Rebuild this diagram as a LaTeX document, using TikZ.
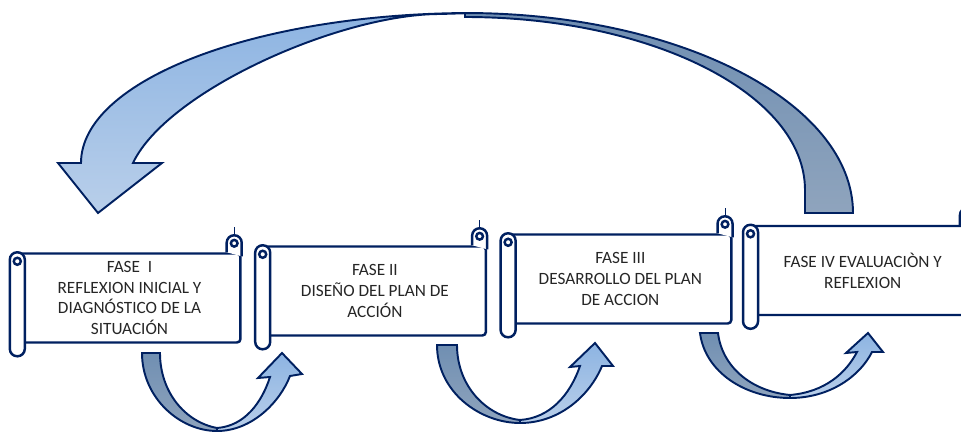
\documentclass[tikz,border=0pt]{standalone}
\usepackage{fontspec}
\setmainfont{Carlito}
\usetikzlibrary{positioning,calc}
\definecolor{azulosc}{RGB}{0,32,96}
\definecolor{celeste}{RGB}{141,180,226}
\definecolor{celestebaj}{RGB}{185,207,234}
\definecolor{grisazul}{RGB}{112,143,178}
\definecolor{grisazulbaj}{RGB}{143,164,189}
\definecolor{texto}{RGB}{38,38,38}

% rollos del pergamino, sobre el cuerpo del nodo
\newcommand{\rollos}[1]{%
  \begin{scope}[shift={(#1.north west)}]
    \draw[rollo, rounded corners=4.2pt] (-7.5,0) rectangle (7.5,104);
    \draw[rollo] (0,9) circle (2pt);
  \end{scope}
  \begin{scope}[shift={(#1.north east)}]
    \draw[rollo, rounded corners=4.2pt] (-15,0) -- (-15,-17) -- (0,-17) -- (0,4);
    \draw[rollo] (-7.5,-9) circle (1.9pt);
    \draw[azulosc, line width=0.5pt] (-7.5,-17) -- (-7.5,-25);
  \end{scope}}

\begin{document}
\begin{tikzpicture}[
  x=0.02cm, y=-0.02cm,
  fase/.style={draw=azulosc, line width=1.4pt, fill=white, rounded corners=2pt, minimum width=4.44cm, minimum height=1.78cm, inner sep=0pt, align=center, text=texto, font=\fontsize{9.8pt}{11.9pt}\selectfont},
  rollo/.style={draw=azulosc, line width=1.4pt, fill=white},
  clara/.style={draw=azulosc, line width=1.1pt, top color=celeste, bottom color=celestebaj},
  oscura/.style={draw=azulosc, line width=1.1pt, top color=grisazul, bottom color=grisazulbaj}
]
\useasboundingbox (0,0) rectangle (961,432);
\clip (0,0) rectangle (961,432);

% fases
\node[fase] (fase1) at (129.5,298) {FASE~~I\\REFLEXION INICIAL Y\\DIAGNÓSTICO DE LA\\SITUACIÓN};
\node[fase, right=0.42cm of fase1, yshift=0.14cm] (fase2) {FASE II\\DISEÑO DEL PLAN DE\\ACCIÓN};
\node[fase, right=0.42cm of fase2, yshift=0.24cm] (fase3) {FASE III\\DESARROLLO DEL PLAN\\DE ACCION};
\node[fase, right=0.36cm of fase3, yshift=0.17cm] (fase4) {FASE IV EVALUACIÒN Y\\REFLEXION};
\rollos{fase1}
\rollos{fase2}
\rollos{fase3}
\rollos{fase4}

% flecha grande de regreso
\draw[oscura] (465,13) arc[start angle=270, end angle=360, x radius=388, y radius=200] -- (805,213)
  -- (805,190) arc[start angle=360, end angle=270, x radius=340, y radius=173] -- cycle;
\draw[clara] (473,13) arc[start angle=270, end angle=180, x radius=392, y radius=150]
  -- (58,163) -- (98,213) -- (162,163) -- (133,163)
  .. controls (167,91) and (340,14) .. (440,14) -- cycle;

% flechas entre fases
\draw[oscura] (142,353) .. controls (142,398) and (180,431) .. (217,431) -- (217,428)
  .. controls (185,422) and (160,392) .. (160,353) -- cycle;
\draw[clara] (217,431) .. controls (252,431) and (280,402) .. (290,376) -- (302,374) -- (282,353)
  -- (258,378) -- (270,377) .. controls (262,402) and (245,426) .. (217,428) -- cycle;

\draw[oscura] (437,345) .. controls (437,392) and (480,423) .. (520,423) -- (520,420)
  .. controls (486,416) and (457,386) .. (457,345) -- cycle;
\draw[clara] (520,423) .. controls (560,423) and (590,395) .. (602,366) -- (613,366) -- (595,343)
  -- (570,367) -- (580,366) .. controls (570,395) and (550,418) .. (520,420) -- cycle;

\draw[oscura] (700,333) .. controls (705,372) and (745,398) .. (790,398) -- (790,395)
  .. controls (750,391) and (722,366) .. (718,333) -- cycle;
\draw[clara] (790,398) .. controls (830,398) and (860,376) .. (872,352) -- (883,352) -- (868,333)
  -- (846,353) -- (857,352) .. controls (846,373) and (825,392) .. (790,395) -- cycle;
\end{tikzpicture}
\end{document}
